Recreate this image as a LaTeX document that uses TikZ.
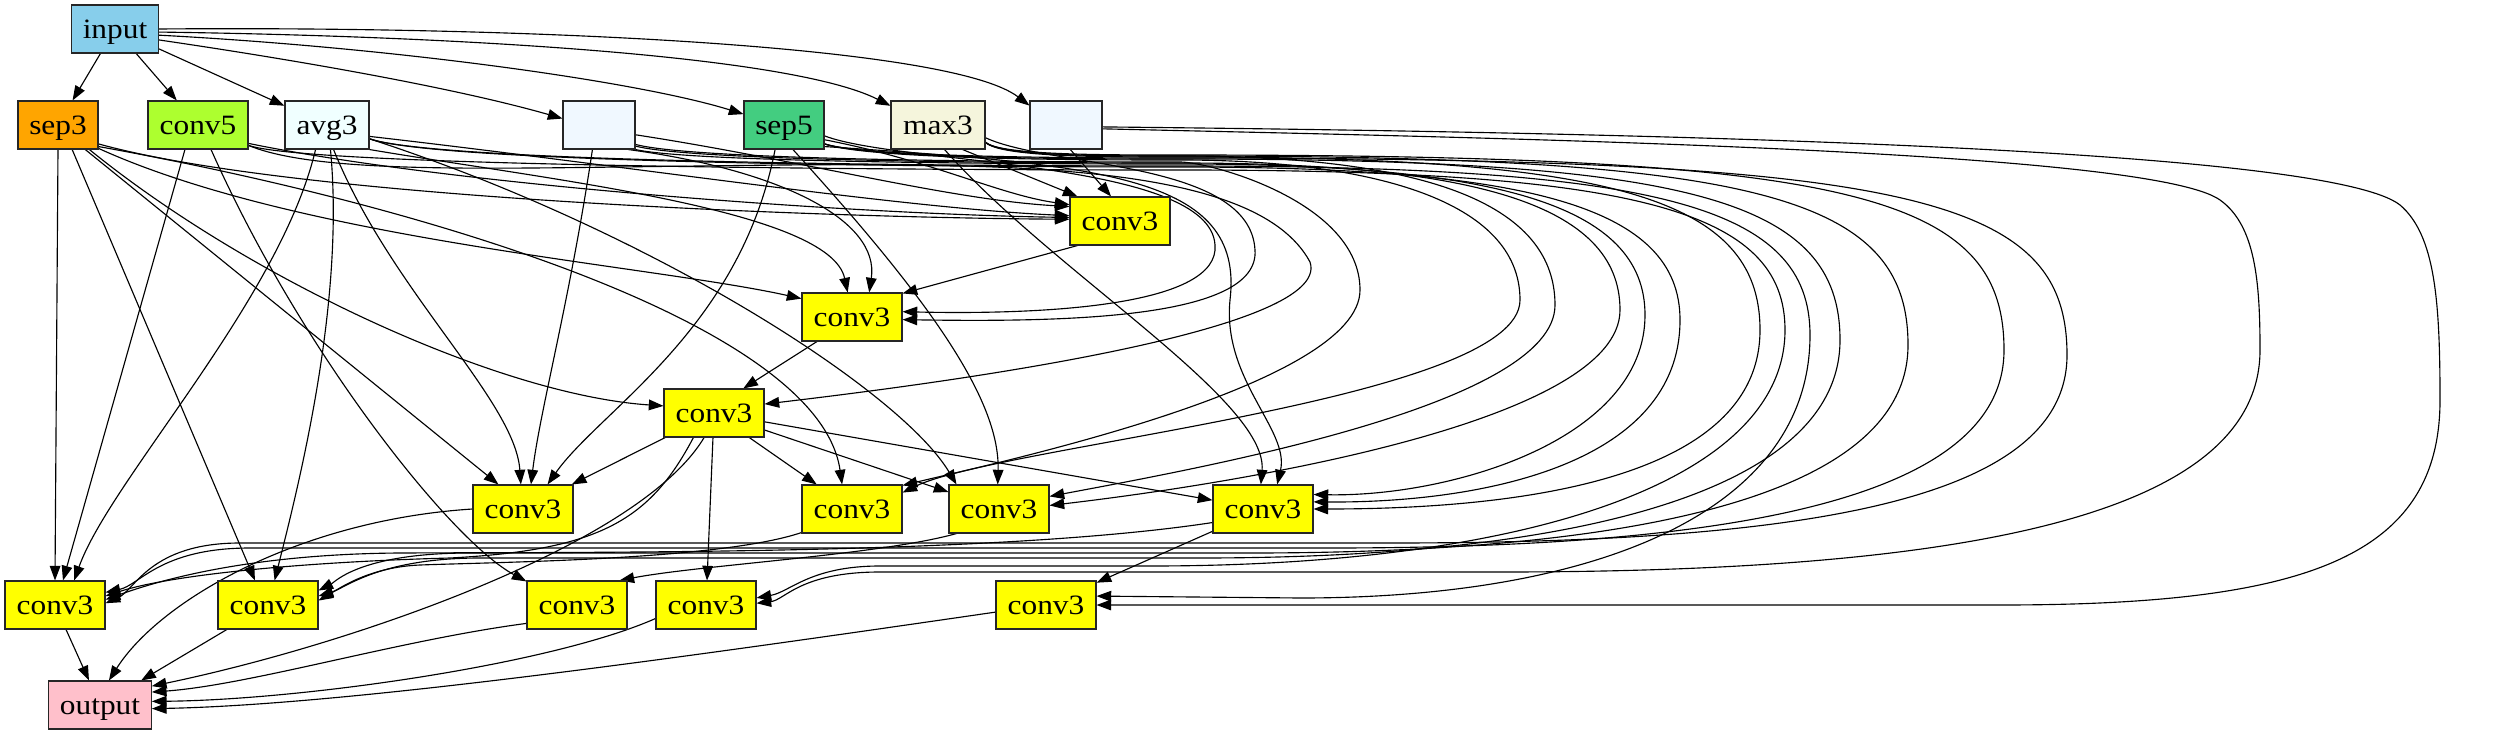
\documentclass[tikz,border=0pt]{standalone}
\usepackage{fontspec}
\setmainfont{Liberation Serif}[FakeStretch=1.12]
\usetikzlibrary{arrows.meta}
\pgfdeclarelayer{bg}
\pgfsetlayers{bg,main}
\definecolor{cinput}{HTML}{87CEEB}
\definecolor{csepthree}{HTML}{FFA500}
\definecolor{cconvfive}{HTML}{ADFF2F}
\definecolor{cavgthree}{HTML}{F0FFFF}
\definecolor{cblank}{HTML}{F0F8FF}
\definecolor{csepfive}{HTML}{43CD80}
\definecolor{cmaxthree}{HTML}{F5F5DC}
\definecolor{cconvthree}{HTML}{FFFF00}
\definecolor{coutput}{HTML}{FFC0CB}
\tikzset{
  box/.style={draw=black!85, line width=0.8pt, minimum height=36pt, inner xsep=2pt, inner ysep=0pt,
    text height=14pt, text depth=0pt, font=\fontsize{21pt}{25pt}\selectfont},
  cv/.style={box, fill=cconvthree, minimum width=75pt},
  conn/.style={line width=0.85pt, -{Triangle[length=11pt,width=8pt]}},
}
% long edge through the bundle: #1 source anchor, #2 first control x, #3 bundle y, #4 turn x, #5 turn y
\newcommand{\viab}[5]{(#1) .. controls (#2,#3) and (1100,#3) .. (1180,#3) .. controls (#4-150,#3) and (#4,#3+40) .. (#4,#5)}
\begin{document}
\begin{tikzpicture}[x=0.75pt,y=-0.75pt]
\useasboundingbox (0,0) rectangle (2504,731);
% nodes
\node[box, fill=cinput, minimum width=65pt] (input) at (115,29) {input};
\node[box, fill=csepthree, minimum width=60pt] (S3) at (58,125) {sep3};
\node[box, fill=cconvfive, minimum width=75pt] (C5) at (198,125) {conv5};
\node[box, fill=cavgthree, minimum width=63pt] (A3) at (327,125) {avg3};
\node[box, fill=cblank, minimum width=54pt] (B1) at (599,125) {};
\node[box, fill=csepfive, minimum width=60pt] (S5) at (784,125) {sep5};
\node[box, fill=cmaxthree, minimum width=70.5pt] (M3) at (938,125) {max3};
\node[box, fill=cblank, minimum width=54pt] (B2) at (1066,125) {};
\node[cv] (A) at (1120,221) {conv3};
\node[cv] (B) at (852,317) {conv3};
\node[cv] (C) at (714,413) {conv3};
\node[cv] (D) at (523,509) {conv3};
\node[cv] (E) at (852,509) {conv3};
\node[cv] (F) at (999,509) {conv3};
\node[cv] (G) at (1263,509) {conv3};
\node[cv] (H) at (55,605) {conv3};
\node[cv] (I) at (268,605) {conv3};
\node[cv] (J) at (577,605) {conv3};
\node[cv] (K) at (706,605) {conv3};
\node[cv] (L) at (1046,605) {conv3};
\node[box, fill=coutput, minimum width=77pt] (output) at (100,705) {output};

\begin{pgfonlayer}{bg}
% from input
\draw[conn] (input) -- (S3);
\draw[conn] (input) -- (C5);
\draw[conn] (input) -- (A3);
\draw[conn] (input.-14) .. controls (330,65) and (470,92) .. (B1.170);
\draw[conn] (input.-8) .. controls (400,48) and (640,82) .. (S5.165);
\draw[conn] (input.-4) .. controls (450,36) and (790,55) .. (M3.158);
\draw[conn] (input.0) .. controls (520,26) and (950,45) .. (B2.152);
% into A
\draw[conn] (S3.-25) .. controls (300,200) and (850,218) .. (A.178);
\draw[conn] (C5.-20) .. controls (450,185) and (850,214) .. (A.176);
\draw[conn] (A3.-15) .. controls (620,165) and (900,208) .. (A.174);
\draw[conn] (B1.-15) .. controls (800,160) and (950,200) .. (A.164);
\draw[conn] (S5.-20) .. controls (930,160) and (1000,195) .. (A.162);
\draw[conn] (M3.-45) -- (A.150);
\draw[conn] (B2.-80) -- (A.110);
% into B
\draw[conn] (A.-150) -- (B.25);
\draw[conn] (S3.-30) .. controls (300,240) and (650,265) .. (B.160);
\draw[conn] (A3.-30) .. controls (550,180) and (830,210) .. (B.100);
\draw[conn] (B1.-40) .. controls (780,170) and (880,220) .. (B.55);
\draw[conn] (S5.-15) .. controls (900,165) and (1210,160) .. (1215,245) .. controls (1220,305) and (1050,315) .. (B.6);
\draw[conn] (M3.-15) .. controls (1050,168) and (1250,160) .. (1255,250) .. controls (1260,320) and (1060,322) .. (B.-3);
% into C
\draw[conn] (B.-145) -- (C.40);
\draw[conn] (S3.-38) .. controls (250,280) and (500,395) .. (C.172);
\draw[conn] (C5.-22) .. controls (320,175) and (500,168) .. (700,166) .. controls (1000,162) and (1255,160) .. (1310,262) .. controls (1335,335) and (900,388) .. (C.10);
% into D
\draw[conn] (S3.-42) -- (D.135);
\draw[conn] (A3.-75) .. controls (390,290) and (515,400) .. (D.95);
\draw[conn] (B1.-105) .. controls (570,300) and (540,410) .. (D.72);
\draw[conn] (S5.-110) .. controls (740,330) and (600,410) .. (D.45);
\draw[conn] (C) -- (D);
% into E
\draw[conn] (C) -- (E);
\draw[conn] (S3.-28) .. controls (450,210) and (820,330) .. (E.112);
\draw[conn] \viab{B1.-28}{700}{162}{1360}{290} .. controls (1360,385) and (1000,462) .. (E.25);
\draw[conn] \viab{S5.-25}{870}{160}{1520}{300} .. controls (1520,400) and (1000,445) .. (E.18);
% into F
\draw[conn] (C) -- (F);
\draw[conn] (A3.-18) .. controls (650,230) and (900,390) .. (F.150);
\draw[conn] (S5.-70) .. controls (930,300) and (1000,400) .. (F.93);
\draw[conn] \viab{M3.-20}{1000}{156}{1555}{305} .. controls (1555,405) and (1200,468) .. (F.14);
\draw[conn] \viab{B1.-30}{700}{163}{1620}{310} .. controls (1620,420) and (1250,482) .. (F.4);
% into G
\draw[conn] (C) -- (G);
\draw[conn] (M3.-75) .. controls (1050,270) and (1268,400) .. (G.95);
\draw[conn] (S5.-28) .. controls (1100,165) and (1245,175) .. (1230,300) .. controls (1222,380) and (1290,430) .. (G.60);
\draw[conn] \viab{B1.-34}{700}{164}{1645}{315} .. controls (1645,440) and (1450,497) .. (G.16);
\draw[conn] \viab{A3.-18}{450}{167}{1680}{320} .. controls (1680,465) and (1480,503) .. (G.8);
\draw[conn] \viab{M3.-20}{1000}{157}{1760}{330} .. controls (1760,485) and (1500,509) .. (G.0);
% into H
\draw[conn] (S3.south) -- (H.north);
\draw[conn] (C5.-118) -- (H.72);
\draw[conn] (A3.-115) .. controls (280,300) and (110,480) .. (H.52);
\draw[conn] (C.-130) .. controls (650,520) and (600,550) .. (450,558) .. controls (300,562) and (170,575) .. (H.10);
\draw[conn] (G.-165) .. controls (1000,555) and (600,552) .. (400,553) .. controls (250,554) and (160,580) .. (H.6);
\draw[conn] \viab{M3.-20}{1000}{155}{2004}{350} .. controls (2004,500) and (1730,548) .. (1330,548) -- (250,548) .. controls (160,548) and (140,585) .. (H.14);
\draw[conn] \viab{S5.-25}{870}{158}{2067}{355} .. controls (2067,505) and (1790,543) .. (1390,543) -- (240,543) .. controls (150,543) and (135,590) .. (H.2);
% into I
\draw[conn] (S3.-60) -- (I.118);
\draw[conn] (A3.-82) .. controls (345,300) and (300,480) .. (I.75);
\draw[conn] (E.-155) .. controls (720,560) and (500,562) .. (420,565) .. controls (370,567) and (340,588) .. (I.5);
\draw[conn] \viab{S5.-25}{870}{159}{1840}{340} .. controls (1840,490) and (1580,558) .. (1200,558) -- (480,558) .. controls (380,558) and (345,588) .. (I.10);
\draw[conn] \viab{M3.-20}{1000}{156}{1908}{345} .. controls (1908,495) and (1640,553) .. (1250,553) -- (470,553) .. controls (360,553) and (335,582) .. (I.16);
% into J
\draw[conn] (C5.-62) .. controls (300,350) and (450,540) .. (J.155);
\draw[conn] (F.-150) .. controls (880,555) and (700,565) .. (J.30);
% into K
\draw[conn] (C) -- (K);
\draw[conn] \viab{C5.-22}{320}{170}{1785}{330} .. controls (1785,480) and (1530,566) .. (1150,566) -- (880,566) .. controls (810,566) and (790,592) .. (K.8);
\draw[conn] (B2.-6) .. controls (1500,138) and (2150,150) .. (2220,200) .. controls (2255,225) and (2260,280) .. (2260,350) .. controls (2260,520) and (1950,572) .. (1500,572) -- (880,572) .. controls (800,572) and (785,600) .. (K.2);
% into L
\draw[conn] (G) -- (L);
\draw[conn] \viab{A3.-18}{450}{166}{1810}{335} .. controls (1810,510) and (1600,598) .. (1300,598) -- (L.10);
\draw[conn] (B2.-3) .. controls (1700,133) and (2330,150) .. (2400,205) .. controls (2435,235) and (2440,300) .. (2440,400) .. controls (2440,560) and (2300,605) .. (2000,605) -- (L.0);
% into output
\draw[conn] (H) -- (output);
\draw[conn] (D.west) .. controls (300,520) and (160,600) .. (output.70);
\draw[conn] (I) -- (output);
\draw[conn] (J.-160) .. controls (400,640) and (250,685) .. (output.14);
\draw[conn] (K.-165) .. controls (550,665) and (300,700) .. (output.4);
\draw[conn] (L.-172) .. controls (700,655) and (350,705) .. (output.-4);
\draw[conn] (C.-112) .. controls (640,545) and (350,645) .. (output.20);
\end{pgfonlayer}
\end{tikzpicture}
\end{document}
